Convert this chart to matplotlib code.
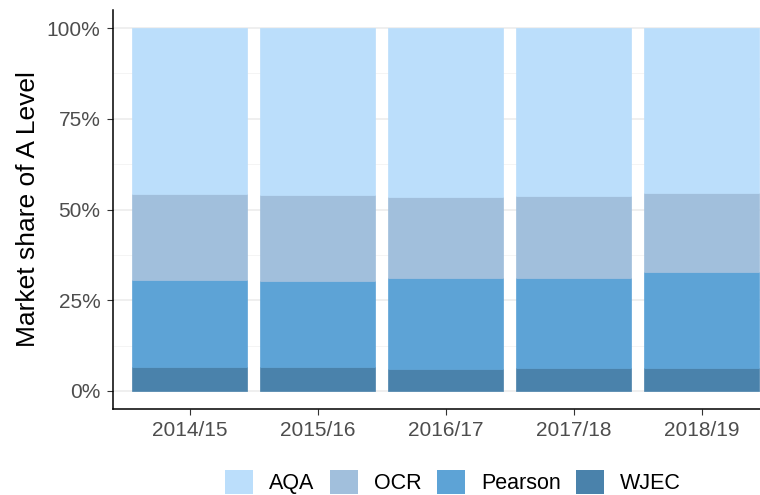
"""Stacked market share of A Level entries by exam board."""

import matplotlib

matplotlib.use("Agg")
import matplotlib.pyplot as plt
import numpy as np
from matplotlib.patches import Patch
from matplotlib.ticker import FuncFormatter, MultipleLocator

plt.rcParams["font.family"] = ["Liberation Sans", "DejaVu Sans"]

years = ["2014/15", "2015/16", "2016/17", "2017/18", "2018/19"]
boards = ["AQA", "OCR", "Pearson", "WJEC"]

# shares in percent
wjec = [6.5, 6.6, 6.0, 6.2, 6.2]
pearson = [24.0, 23.6, 25.0, 24.9, 26.7]
ocr = [23.8, 23.9, 22.5, 22.7, 21.7]
aqa = [45.7, 45.9, 46.5, 46.2, 45.4]

colors = {
    "AQA": "#BBDEFB",
    "OCR": "#A1BFDC",
    "Pearson": "#5DA3D6",
    "WJEC": "#4A82AB",
}

fig = plt.figure(figsize=(7.6, 4.95), dpi=100)
ax = fig.add_axes([113 / 760, 86 / 495, 1 - 113 / 760, 399 / 495])

x = np.arange(1, len(years) + 1)
bottom = np.zeros(len(years))
# stack from the bottom up: WJEC, Pearson, OCR, AQA
for name, vals in [("WJEC", wjec), ("Pearson", pearson), ("OCR", ocr), ("AQA", aqa)]:
    vals = np.array(vals)
    ax.bar(x, vals, width=0.9, bottom=bottom, color=colors[name], zorder=2,
           edgecolor=colors[name], linewidth=0.5)
    bottom += vals

ax.set_xlim(0.4, 5.455)
ax.set_ylim(-5, 105)
ax.set_xticks(x)
ax.set_xticklabels(years)
ax.yaxis.set_major_locator(MultipleLocator(25))
ax.yaxis.set_minor_locator(MultipleLocator(12.5))
ax.yaxis.set_major_formatter(FuncFormatter(lambda v, _: f"{v:.0f}%"))

ax.grid(axis="y", which="major", color="#EBEBEB", lw=1.1, zorder=0)
ax.grid(axis="y", which="minor", color="#F2F2F2", lw=0.6, zorder=0)
ax.set_axisbelow(True)

for side in ["top", "right"]:
    ax.spines[side].set_visible(False)
for side in ["left", "bottom"]:
    ax.spines[side].set_color("black")
    ax.spines[side].set_linewidth(1.1)

ax.tick_params(axis="both", which="major", length=4, width=0.8, color="#333333",
               labelsize=15, labelcolor="#4D4D4D", pad=5)
ax.tick_params(axis="y", which="minor", length=0)
ax.set_ylabel("Market share of A Level", fontsize=19, color="black", labelpad=5)

handles = [Patch(facecolor=colors[b], edgecolor="none", label=b) for b in boards]
fig.legend(handles=handles, loc="lower center", bbox_to_anchor=(0.596, -0.038), ncol=4,
           frameon=False, fontsize=15.5, handlelength=1.3, handleheight=1.3,
           handletextpad=0.75, columnspacing=0.7)

fig.savefig("out.png", dpi=100)
